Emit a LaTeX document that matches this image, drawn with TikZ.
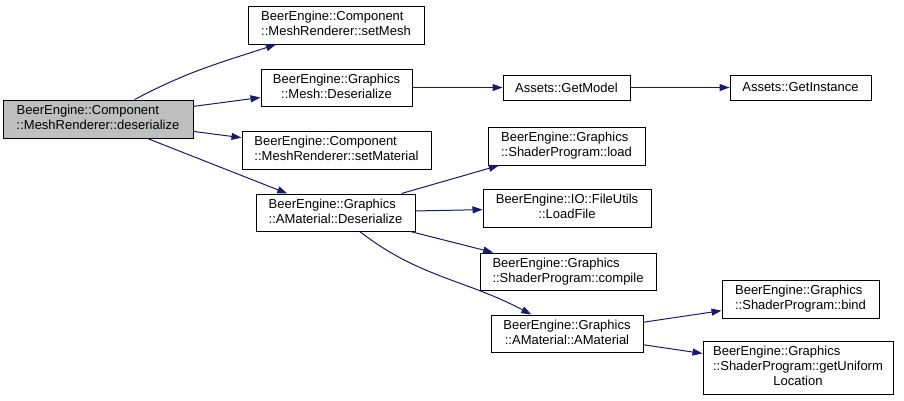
\documentclass[tikz,border=0pt]{standalone}
\usepackage{fontspec}
\setmainfont{Liberation Sans}
\usetikzlibrary{arrows.meta}
\definecolor{edgec}{HTML}{191970}
\definecolor{rootfill}{HTML}{BFBFBF}
\newcommand\twol[2]{\begin{tabular}{@{}l@{}}#1\\\multicolumn{1}{@{}c@{}}{#2}\end{tabular}}
\newcommand\threel[3]{\begin{tabular}{@{}l@{}}#1\\#2\\\multicolumn{1}{@{}c@{}}{#3}\end{tabular}}
\begin{document}
\begin{tikzpicture}[x=1pt,y=-1pt,
  fnbox/.style={draw=black,line width=1pt,fill=white,inner sep=0pt,
    minimum width=#1,font=\fontsize{13}{15}\selectfont},
  call/.style={draw=edgec,line width=1pt,-{Triangle[length=10pt,width=7pt]}}]
\useasboundingbox (0,0) rectangle (904,400);
\node[fnbox=190,minimum height=38,fill=rootfill] (root) at (98,119) {\twol{BeerEngine::Component}{::MeshRenderer::deserialize}};
\node[fnbox=176,minimum height=38] (setMesh) at (336,25) {\twol{BeerEngine::Component}{::MeshRenderer::setMesh}};
\node[fnbox=151,minimum height=37] (meshDes) at (336.5,87.5) {\twol{BeerEngine::Graphics}{::Mesh::Deserialize}};
\node[fnbox=189,minimum height=38] (setMat) at (336.5,150) {\twol{BeerEngine::Component}{::MeshRenderer::setMaterial}};
\node[fnbox=159,minimum height=37] (amDes) at (335.5,212.5) {\twol{BeerEngine::Graphics}{::AMaterial::Deserialize}};
\node[fnbox=127,minimum height=25] (getModel) at (566.5,87.5) {Assets::GetModel};
\node[fnbox=141,minimum height=25] (getInst) at (800.5,87.5) {Assets::GetInstance};
\node[fnbox=157,minimum height=38] (load) at (566.5,146) {\twol{BeerEngine::Graphics}{::ShaderProgram::load}};
\node[fnbox=168,minimum height=38] (loadFile) at (567,208) {\twol{BeerEngine::IO::FileUtils}{::LoadFile}};
\node[fnbox=176,minimum height=37] (compile) at (568,271.5) {\twol{BeerEngine::Graphics}{::ShaderProgram::compile}};
\node[fnbox=152,minimum height=37] (amAm) at (567,333.5) {\twol{BeerEngine::Graphics}{::AMaterial::AMaterial}};
\node[fnbox=157,minimum height=38] (bind) at (800.5,299) {\twol{BeerEngine::Graphics}{::ShaderProgram::bind}};
\node[fnbox=190,minimum height=53] (getUni) at (798,367.5) {\threel{BeerEngine::Graphics}{::ShaderProgram::getUniform}{Location}};
\draw[call] (root) to[out=28,in=198] (setMesh);
\draw[call] (root) -- (meshDes);
\draw[call] (root) -- (setMat);
\draw[call] (root) -- (amDes);
\draw[call] (meshDes) -- (getModel);
\draw[call] (getModel) -- (getInst);
\draw[call] (amDes) -- (load);
\draw[call] (amDes) -- (loadFile);
\draw[call] (amDes) -- (compile);
\draw[call] (amDes) to[out=-38,in=152] (amAm);
\draw[call] (amAm) -- (bind);
\draw[call] (amAm) -- (getUni);
\end{tikzpicture}
\end{document}
